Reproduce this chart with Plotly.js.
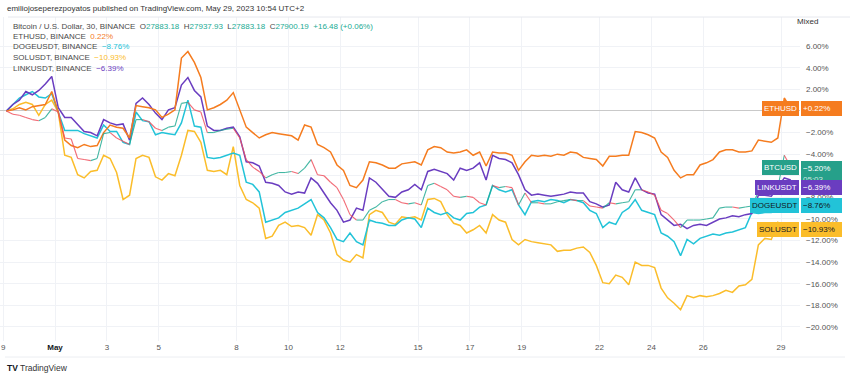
<!DOCTYPE html>
<html><head><meta charset="utf-8">
<script src="https://cdn.plot.ly/plotly-3.0.1.min.js"></script>
<style>html,body{margin:0;padding:0;background:#fff}#chart{width:850px;height:380px}</style>
</head><body><div id="chart"></div>
<script>
// ---- data (percent change, 6-hour samples starting 2023-04-29 03:00) ----
const startTime = Date.UTC(2023, 3, 29, 3, 0);
const stepHours = 6;
const btc = [0,-0.3,-0.4,-0.6,-0.8,-0.9,-0.6,0.2,-0.1,-2.5,
-2.6,-4.4,-4.5,-4.6,-4.4,-2.1,-2.0,-2.5,-2.8,-3.1,
-0.8,-0.8,-1.0,-1.6,-1.8,-1.5,-1.4,0.7,0.8,0.1,
-0.1,-2.0,-2.0,-1.8,-1.7,-1.6,-2.5,-4.5,-5.2,-5.6,
-6.2,-5.9,-5.7,-5.7,-5.6,-5.8,-5.3,-4.5,-5.9,-6.0,
-6.6,-7.1,-8.2,-9.6,-10.1,-10.1,-9.2,-8.9,-8.4,-8.2,
-8.2,-8.5,-8.6,-8.5,-8.7,-6.9,-6.7,-7.0,-7.3,-7.9,
-8.0,-7.9,-8.0,-8.5,-8.7,-6.9,-7.1,-7.0,-7.1,-8.7,
-7.6,-8.5,-8.5,-8.6,-8.6,-8.4,-8.3,-8.2,-8.3,-8.3,
-8.8,-8.9,-9.0,-8.5,-8.6,-8.5,-8.4,-7.3,-7.3,-7.5,
-7.8,-9.2,-9.5,-10.1,-10.8,-10.1,-10.1,-10.1,-10.0,-9.9,
-9.0,-8.9,-8.9,-9.0,-8.9,-8.8,-7.5,-7.6,-7.7,-7.1,
-4.1,-5.20];
const eth = [0,0.1,0.3,0.1,0.4,0.5,0.6,1.8,-0.1,-2.7,
-3.2,-3.4,-3.1,-3.3,-3.2,-2.0,-1.3,-1.5,-1.6,-2.5,
0.5,0.4,0.3,0.1,-0.6,-0.3,0.1,4.9,5.5,4.5,
3.1,0.1,0.3,0.6,1.0,1.7,0.1,-1.5,-2.0,-2.5,
-2.2,-2.0,-2.1,-2.2,-2.3,-2.7,-1.3,-1.5,-3.1,-3.4,
-3.8,-5.0,-5.5,-6.9,-7.1,-6.4,-4.7,-4.8,-5.0,-5.3,
-5.3,-4.9,-4.8,-4.7,-5.0,-3.6,-3.3,-3.4,-3.8,-3.9,
-3.8,-3.6,-4.1,-3.8,-5.1,-3.8,-3.9,-3.9,-4.1,-5.5,
-4.7,-4.1,-4.2,-4.1,-4.2,-4.0,-4.1,-3.8,-3.9,-4.3,
-4.4,-4.5,-5.1,-4.2,-4.2,-4.1,-4.1,-1.9,-2.0,-2.2,
-2.5,-3.8,-4.3,-5.5,-6.2,-5.9,-5.9,-5.0,-4.8,-4.5,
-3.8,-3.6,-3.6,-3.8,-3.8,-3.7,-2.7,-2.8,-2.9,-2.5,
1.2,0.22];
const doge = [0,0.6,1.2,1.5,1.8,1.3,1.2,1.6,-0.1,-1.8,
-1.8,-1.8,-2.1,-2.3,-2.5,-1.3,-1.9,-1.9,-2.9,-3.1,
-0.1,-0.9,-1.0,-2.2,-2.0,-2.1,-2.2,-1.1,1.0,-1.4,
-1.5,-4.3,-4.4,-4.3,-4.1,-3.9,-4.1,-6.6,-6.8,-7.5,
-10.3,-10.1,-9.9,-9.4,-9.2,-9.0,-8.6,-8.2,-9.4,-9.9,
-10.8,-11.9,-12.1,-11.3,-12.1,-12.4,-10.1,-10.3,-10.4,-10.6,
-10.6,-10.1,-9.9,-10.0,-10.8,-9.0,-9.4,-9.6,-9.4,-9.9,
-10.1,-9.5,-9.4,-8.9,-8.7,-6.9,-7.3,-7.5,-7.3,-8.7,
-9.6,-8.4,-8.3,-8.4,-8.2,-8.3,-8.5,-8.2,-8.3,-8.5,
-9.2,-9.5,-10.8,-10.3,-10.5,-9.4,-9.0,-8.2,-9.2,-9.4,
-9.6,-11.3,-11.6,-12.1,-13.4,-11.9,-12.3,-11.8,-11.6,-11.4,
-11.5,-11.3,-11.2,-11.0,-10.8,-9.4,-9.5,-9.4,-9.4,-9.2,
-8.2,-8.76];
const sol = [0,0.2,0.6,0.8,0.6,-0.4,0.6,1.0,-0.1,-4.1,
-4.3,-5.9,-6.2,-5.6,-5.5,-4.1,-4.4,-5.7,-8.2,-7.8,
-4.4,-4.1,-4.3,-6.1,-6.4,-5.8,-6.0,-4.1,-1.8,-1.9,
-2.9,-5.5,-5.6,-5.5,-5.9,-3.3,-6.9,-8.2,-8.5,-9.0,
-11.8,-11.6,-10.6,-10.3,-10.7,-10.6,-10.8,-11.5,-9.6,-10.1,
-11.3,-13.3,-13.8,-14.0,-13.3,-13.6,-9.6,-9.2,-9.4,-10.3,
-10.5,-9.8,-9.9,-9.8,-10.1,-8.2,-8.1,-8.4,-9.6,-10.4,
-10.6,-11.3,-11.0,-10.6,-11.3,-9.6,-10.1,-10.3,-11.9,-12.4,
-11.9,-12.1,-12.2,-12.3,-12.4,-13.0,-12.9,-12.9,-12.7,-12.6,
-13.1,-14.3,-15.9,-16.0,-15.2,-15.4,-16.1,-14.0,-14.3,-14.3,
-14.5,-16.4,-17.3,-17.8,-18.4,-17.1,-17.3,-17.1,-17.2,-17.1,
-16.9,-16.6,-16.8,-16.2,-16.1,-15.6,-12.4,-11.8,-11.9,-10.3,
-10.6,-10.93];
const link = [0,0.6,1.0,1.8,1.5,1.9,2.5,3.2,0.3,-0.6,
-0.6,-1.3,-1.9,-2.0,-2.3,-0.8,-1.1,-1.3,-1.2,-2.7,
0.7,1.2,0.6,-0.2,-0.8,0.1,0.3,2.4,3.1,1.9,
1.3,-1.4,-1.8,-1.8,-1.6,-1.5,-2.4,-4.7,-4.8,-5.1,
-6.6,-6.7,-6.9,-7.5,-7.7,-7.5,-7.6,-6.2,-6.7,-7.6,
-8.5,-9.2,-10.3,-10.1,-9.0,-9.2,-6.2,-6.6,-7.3,-7.9,
-8.0,-7.5,-7.3,-6.8,-7.3,-5.6,-5.4,-5.6,-5.8,-6.4,
-5.3,-5.5,-5.3,-4.8,-6.4,-4.1,-4.4,-4.5,-4.8,-5.9,
-7.3,-7.8,-7.7,-7.8,-7.9,-7.8,-7.7,-7.5,-7.6,-7.6,
-8.4,-8.6,-8.9,-8.7,-6.6,-7.3,-7.5,-6.2,-7.3,-7.6,
-7.7,-9.6,-10.1,-10.6,-10.5,-10.9,-10.6,-10.5,-10.6,-10.3,
-10.0,-9.9,-9.7,-9.8,-9.6,-9.5,-7.8,-7.8,-7.9,-7.1,
-6.2,-6.39];
const btcQuote = [27883.18, 27937.93, 27883.18, 27900.19];
const btcChange = [16.48, 0.06];
const btcCountdown = '05:03';
const xTickDates = ['2023-04-29','2023-05-01','2023-05-03','2023-05-05','2023-05-08','2023-05-10','2023-05-12','2023-05-15','2023-05-17','2023-05-19','2023-05-22','2023-05-24','2023-05-26','2023-05-29'];
const xTickLabels = ['9','May','3','5','8','10','12','15','17','19','22','24','26','29'];
const yTickVals = [6,4,2,0,-2,-4,-6,-8,-10,-12,-14,-16,-18,-20];
const yHiddenLabels = [0,-6]; // covered by price badges in the original

// ---- layout helpers ----
const W=850,H=380,ML=0,MR=50,MT=17,MB=39;
const PW=W-ML-MR, PH=H-MT-MB;
const px = x => (x-ML)/PW;
const py = y => 1-(y-MT)/PH;
const FONT = 'Liberation Sans, Arial, sans-serif';
const C = {btc:'#26a08a', up:'#22ab94', dn:'#f0525f', eth:'#f57c1f', doge:'#22c3d8', sol:'#fbbd2a', link:'#6a3dc0', text:'#4a4a4a', dark:'#131722'};

const times = btc.map((_,i)=>new Date(startTime+i*stepHours*3600e3).toISOString().slice(0,16).replace('T',' '));
const fmt = v => (v<0?'\u2212':'') + Math.abs(v).toFixed(2) + '%';
const fmtS = v => (v<0?'\u2212':'+') + Math.abs(v).toFixed(2) + '%';
const last = a => a[a.length-1];

// BTC as up/down coloured segments
const upX=[],upY=[],dnX=[],dnY=[];
for(let i=0;i<btc.length-1;i++){
  const up = btc[i+1]>=btc[i];
  (up?upX:dnX).push(times[i],times[i+1],null);
  (up?upY:dnY).push(btc[i],btc[i+1],null);
}
const line = (y,color,w)=>({type:'scatter',mode:'lines',x:times,y:y,line:{color:color,width:w},hoverinfo:'skip',showlegend:false});
const traces = [
  line(sol,C.sol,1.5), line(doge,C.doge,1.5), line(link,C.link,1.5), line(eth,C.eth,1.5),
  {type:'scatter',mode:'lines',x:upX,y:upY,line:{color:C.up,width:1.1},opacity:0.85,hoverinfo:'skip',showlegend:false,connectgaps:false},
  {type:'scatter',mode:'lines',x:dnX,y:dnY,line:{color:C.dn,width:1.1},opacity:0.85,hoverinfo:'skip',showlegend:false,connectgaps:false}
];

const ann = [];
const txt = (x,y,text,opts={}) => ann.push(Object.assign({xref:'paper',yref:'paper',x:px(x),y:py(y),xanchor:'left',yanchor:'middle',showarrow:false,text:text,font:{family:FONT,size:8,color:C.text}},opts));
txt(5,9,'emiliojoseperezpoyatos published on TradingView.com, May 29, 2023 10:54 UTC+2',{font:{family:FONT,size:8,color:'#333'}});
const g = s => '<span style="color:'+C.up+'">'+s+'</span>';
const sp = '\u00a0\u00a0';
txt(11,26,'Bitcoin / U.S. Dollar, 30, BINANCE'+sp+'O'+g(btcQuote[0].toFixed(2))+sp+'H'+g(btcQuote[1].toFixed(2))+sp+'L'+g(btcQuote[2].toFixed(2))+sp+'C'+g(btcQuote[3].toFixed(2))+sp+g('+'+btcChange[0].toFixed(2)+' (+'+btcChange[1].toFixed(2)+'%)'));
const leg = [['ETHUSD, BINANCE',eth,C.eth,(v)=>v.toFixed(2)+'%'],['DOGEUSDT, BINANCE',doge,C.doge,fmt],['SOLUSDT, BINANCE',sol,C.sol,fmt],['LINKUSDT, BINANCE',link,C.link,fmt]];
leg.forEach((l,i)=>txt(11,36.5+i*10.5,l[0]+sp+'<span style="color:'+l[2]+'">'+l[3](last(l[1]))+'</span>'));
txt(807,22,'Mixed',{xanchor:'center',font:{family:FONT,size:8,color:'#333'}});
txt(18,368,'TradingView',{font:{family:FONT,size:8.5,color:'#333'}});
txt(5,368,'<b>TV</b>',{font:{family:FONT,size:8.5,color:C.dark}});

// price badges: [name, badge centre (data units), colour, text colour, value text, box height]
const badges = [
  ['ETHUSD', last(eth), C.eth, '#fff', fmtS(last(eth)), 11],
  ['BTCUSD', last(btc), C.btc, '#fff', fmt(last(btc))+'<br><span style="color:rgba(255,255,255,0.75)">'+btcCountdown+'</span>', 22],
  ['LINKUSDT', -7.1, C.link, '#fff', fmt(last(link)), 11],
  ['DOGEUSDT', last(doge), C.doge, C.dark, fmt(last(doge)), 11],
  ['SOLUSDT', last(sol), C.sol, C.dark, fmt(last(sol)), 11]
];
badges.forEach(b=>{
  const two = b[5]>11;
  ann.push({xref:'paper',yref:'y',x:1,y:b[1],xanchor:'right',yanchor:'middle',xshift:-1,showarrow:false,text:b[0],height:11,
    font:{family:FONT,size:8,color:b[3]},bgcolor:b[2],bordercolor:b[2],borderwidth:1,borderpad:1});
  ann.push({xref:'paper',yref:'y',x:1,y:b[1],xanchor:'left',yanchor:two?'top':'middle',yshift:two?6.5:0,xshift:1,showarrow:false,text:b[4],align:'left',width:37,height:b[5],
    font:{family:FONT,size:8,color:b[3]},bgcolor:b[2],bordercolor:b[2],borderwidth:1,borderpad:1});
});

const layout = {
  width:W,height:H,margin:{l:ML,r:MR,t:MT,b:MB},paper_bgcolor:'#fff',plot_bgcolor:'#fff',
  showlegend:false,
  xaxis:{type:'date',range:['2023-04-28 21:05','2023-05-29 17:32'],tickvals:xTickDates,
    ticktext:xTickLabels.map(t=>t==='May'?'<span style="color:'+C.dark+'"><b>May</b></span>':t),
    ticks:'',showline:false,zeroline:false,gridcolor:'#f0f2f6',gridwidth:1,ticklabeloverflow:'allow',
    tickfont:{family:FONT,size:8,color:'#555'},fixedrange:true},
  yaxis:{side:'right',range:[-21.3,8.7],tickvals:yTickVals,ticktext:yTickVals.map(v=>yHiddenLabels.includes(v)?'':fmt(v)),ticks:'',showline:false,
    zeroline:true,zerolinecolor:'#c9c9c9',zerolinewidth:1,gridcolor:'#f0f2f6',gridwidth:1,ticklabelstandoff:5,
    tickfont:{family:FONT,size:8,color:'#555'},fixedrange:true},
  shapes:[
    {type:'line',xref:'paper',yref:'paper',x0:px(8),x1:px(850),y0:py(17),y1:py(17),line:{color:'#e6e8ee',width:1}},
    {type:'line',xref:'paper',yref:'paper',x0:px(5),x1:px(845),y0:py(357),y1:py(357),line:{color:'#eceef2',width:1}}
  ],
  annotations:ann
};
Plotly.newPlot('chart',traces,layout,{displayModeBar:false,staticPlot:true});
</script></body></html>
